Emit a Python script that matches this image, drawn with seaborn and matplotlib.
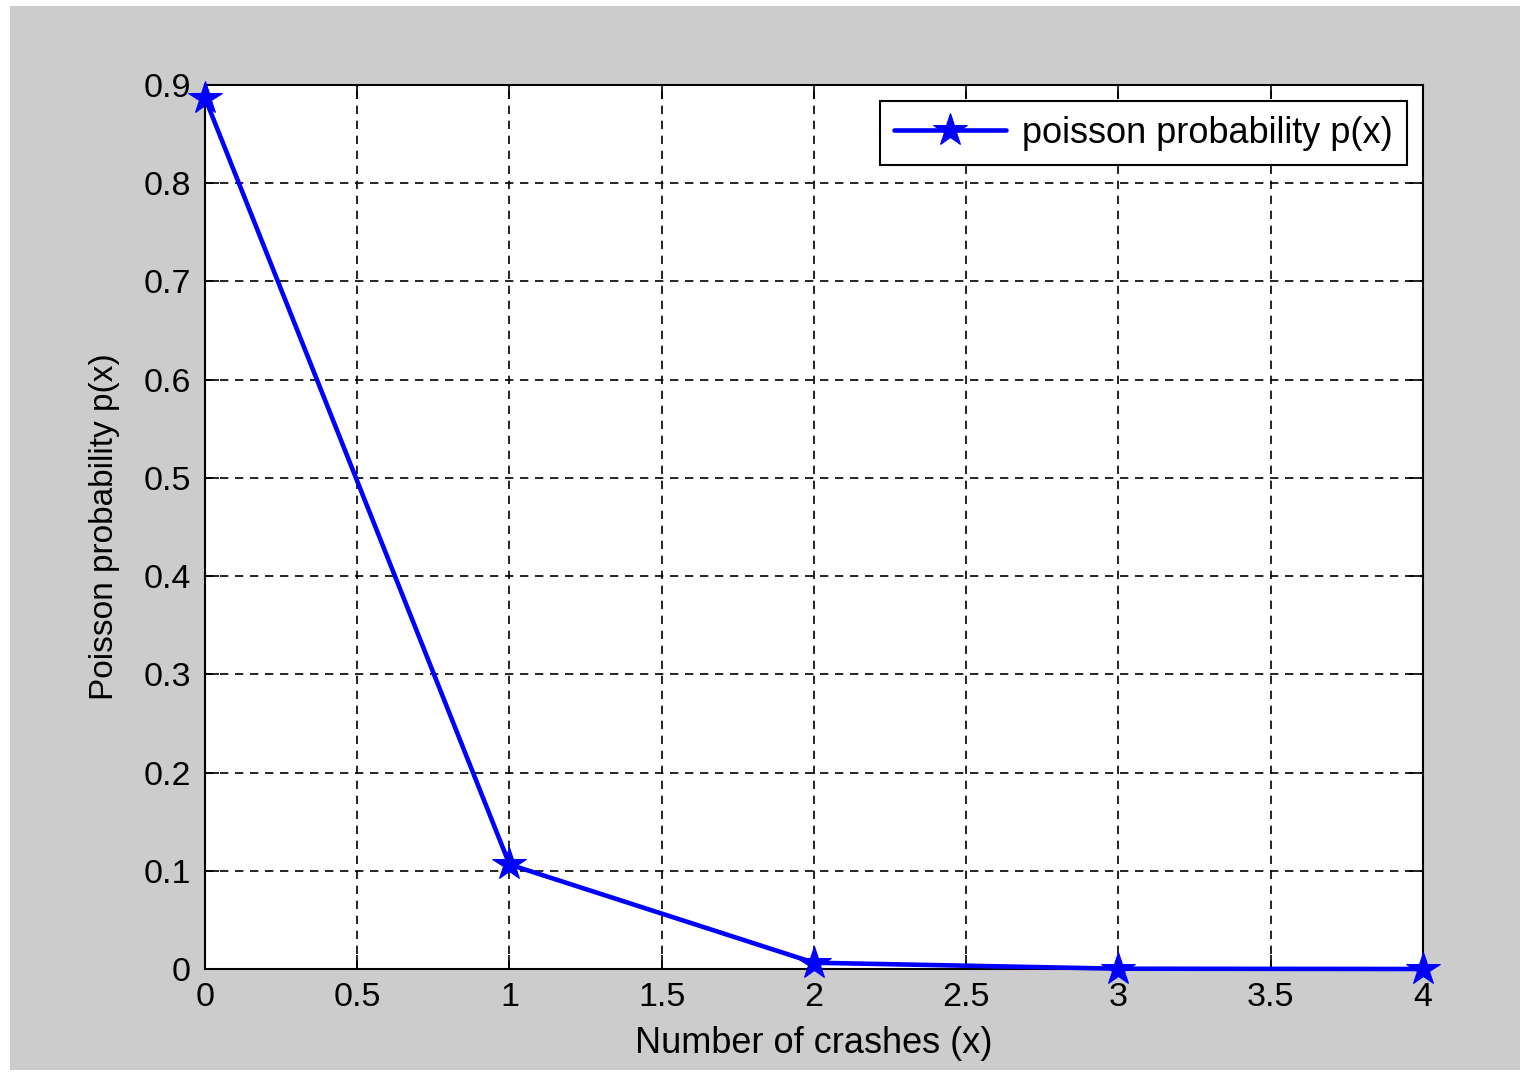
import matplotlib
matplotlib.use("Agg")
import matplotlib.pyplot as plt
import seaborn as sns
import pandas as pd
from matplotlib.patches import Rectangle

# Values
crashes = [0, 1, 2, 3, 4]
probability = [0.8869, 0.1064, 0.0064, 0.0003, 0.0000]
x_ticks = [0, 0.5, 1, 1.5, 2, 2.5, 3, 3.5, 4]
y_ticks = [0, 0.1, 0.2, 0.3, 0.4, 0.5, 0.6, 0.7, 0.8, 0.9]

df = pd.DataFrame({"x": crashes, "p": probability})

sns.set_style("ticks")
plt.rcParams["font.family"] = ["Liberation Sans", "DejaVu Sans"]
plt.rcParams["text.color"] = "black"
plt.rcParams["axes.labelcolor"] = "black"

fig = plt.figure(figsize=(15.33, 10.79), dpi=100, facecolor="white")
# gray MATLAB-style figure panel inside a thin white border
fig.patches.append(Rectangle((10 / 1533, 9 / 1079), 1510 / 1533, 1064 / 1079,
                             transform=fig.transFigure, facecolor="#cccccc",
                             edgecolor="none", zorder=-10))
ax = fig.add_axes([205 / 1533, 1 - 969 / 1079, 1218 / 1533, 884 / 1079])
ax.set_zorder(1)
ax.set_facecolor("white")

sns.lineplot(data=df, x="x", y="p", ax=ax, color="#0000ff", linewidth=3.3,
             marker="*", markersize=25, markeredgecolor="#0000ff",
             label="poisson probability p(x)", clip_on=False, zorder=5)

ax.set_xlim(0, 4)
ax.set_ylim(0, 0.9)
ax.set_xticks(x_ticks)
ax.set_xticklabels(["0", "0.5", "1", "1.5", "2", "2.5", "3", "3.5", "4"])
ax.set_yticks(y_ticks)
ax.set_yticklabels(["0", "0.1", "0.2", "0.3", "0.4", "0.5", "0.6", "0.7", "0.8", "0.9"])
ax.grid(True, color="black", linestyle=(0, (5, 4)), linewidth=1.2)
ax.set_axisbelow(True)
ax.tick_params(direction="in", length=10, width=1.2, labelsize=24.5,
               top=True, right=True, colors="black")
ax.tick_params(axis="x", pad=9)
ax.tick_params(axis="y", pad=10)
for s in ax.spines.values():
    s.set_visible(True)
    s.set_color("black")
    s.set_linewidth(1.5)

ax.set_xlabel("Number of crashes (x)", fontsize=26, labelpad=10)
ax.set_ylabel("Poisson probability p(x)", fontsize=24, labelpad=17)

leg = ax.legend(loc="upper right", fontsize=26, handlelength=3.1,
                fancybox=False, framealpha=1, edgecolor="black",
                borderaxespad=0.45, borderpad=0.4, handletextpad=0.42)
leg.get_frame().set_linewidth(1.5)

fig.savefig("out.png", dpi=100, facecolor="white")
